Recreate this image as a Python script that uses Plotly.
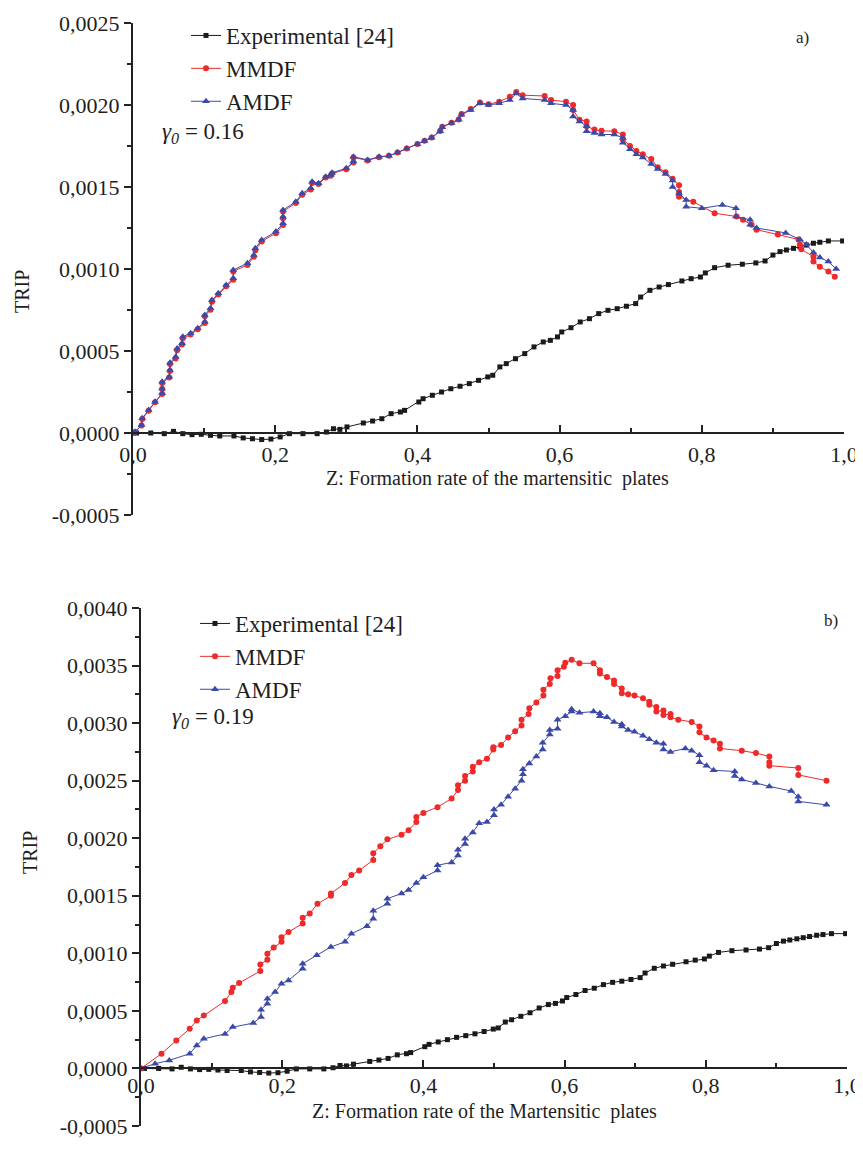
import plotly.graph_objects as go

# ---------------- data (TRIP values in units of 1e-3) ----------------
EXPERIMENTAL = [
    (0.0, 0.0), (0.005, 0.0), (0.025, 0.0), (0.044, -0.004), (0.057, 0.010), (0.070, -0.004),
    (0.083, -0.010), (0.096, -0.008), (0.109, -0.014), (0.122, -0.018), (0.142, -0.018),
    (0.155, -0.030), (0.168, -0.035), (0.181, -0.040), (0.194, -0.037), (0.207, -0.024),
    (0.220, -0.004), (0.239, -0.004), (0.259, -0.004), (0.272, 0.006), (0.282, 0.026),
    (0.291, 0.022), (0.301, 0.037), (0.324, 0.061), (0.337, 0.073), (0.350, 0.087),
    (0.363, 0.118), (0.376, 0.128), (0.382, 0.138), (0.402, 0.189), (0.408, 0.209),
    (0.421, 0.230), (0.434, 0.250), (0.447, 0.270), (0.460, 0.285), (0.473, 0.301),
    (0.486, 0.321), (0.499, 0.342), (0.506, 0.352), (0.516, 0.403), (0.525, 0.423),
    (0.538, 0.453), (0.551, 0.484), (0.564, 0.525), (0.577, 0.555), (0.587, 0.565),
    (0.597, 0.586), (0.603, 0.616), (0.616, 0.642), (0.629, 0.677), (0.642, 0.697),
    (0.655, 0.728), (0.668, 0.748), (0.681, 0.758), (0.694, 0.773), (0.707, 0.789),
    (0.714, 0.829), (0.727, 0.870), (0.740, 0.890), (0.753, 0.905), (0.772, 0.927),
    (0.785, 0.941), (0.798, 0.951), (0.805, 0.976), (0.818, 1.008), (0.837, 1.023),
    (0.857, 1.029), (0.876, 1.037), (0.889, 1.049), (0.900, 1.085), (0.910, 1.106),
    (0.919, 1.116), (0.929, 1.126), (0.938, 1.136), (0.947, 1.146), (0.957, 1.157),
    (0.966, 1.163), (0.978, 1.171), (0.998, 1.171),
]

MMDF_A = [
    (0.0, 0.0), (0.003, 0.006), (0.012, 0.045), (0.013, 0.085), (0.022, 0.136), (0.031, 0.188),
    (0.041, 0.238), (0.041, 0.268), (0.041, 0.305), (0.051, 0.338), (0.052, 0.378), (0.052, 0.420),
    (0.060, 0.455), (0.062, 0.505), (0.069, 0.540), (0.070, 0.578), (0.081, 0.600), (0.091, 0.632),
    (0.101, 0.670), (0.101, 0.712), (0.109, 0.752), (0.111, 0.800), (0.120, 0.845), (0.131, 0.895),
    (0.141, 0.935), (0.141, 0.985), (0.161, 1.025), (0.170, 1.075), (0.172, 1.115), (0.181, 1.168),
    (0.201, 1.218), (0.211, 1.268), (0.211, 1.310), (0.211, 1.350), (0.229, 1.402), (0.238, 1.452),
    (0.250, 1.485), (0.252, 1.525), (0.261, 1.518), (0.271, 1.558), (0.278, 1.568), (0.280, 1.582),
    (0.300, 1.608), (0.310, 1.650), (0.310, 1.680), (0.330, 1.662), (0.346, 1.682), (0.360, 1.690),
    (0.372, 1.710), (0.385, 1.735), (0.400, 1.762), (0.410, 1.782), (0.420, 1.802), (0.432, 1.842),
    (0.435, 1.868), (0.448, 1.892), (0.458, 1.912), (0.462, 1.945), (0.475, 1.975), (0.488, 2.015),
    (0.500, 2.005), (0.515, 2.020), (0.530, 2.050), (0.539, 2.080), (0.548, 2.060), (0.579, 2.055),
    (0.588, 2.030), (0.609, 2.020), (0.619, 2.000), (0.619, 1.970), (0.628, 1.910), (0.638, 1.900),
    (0.638, 1.870), (0.649, 1.850), (0.659, 1.843), (0.677, 1.840), (0.689, 1.820), (0.689, 1.790),
    (0.699, 1.750), (0.708, 1.720), (0.717, 1.700), (0.729, 1.670), (0.738, 1.620), (0.749, 1.590),
    (0.759, 1.550), (0.768, 1.510), (0.768, 1.470), (0.768, 1.440), (0.788, 1.410), (0.818, 1.340),
    (0.849, 1.320), (0.858, 1.300), (0.870, 1.270), (0.877, 1.240), (0.907, 1.210), (0.936, 1.180),
    (0.938, 1.150), (0.940, 1.120), (0.957, 1.075), (0.957, 1.045), (0.966, 1.014), (0.978, 0.984),
    (0.987, 0.953),
]

AMDF_A = [
    (0.0, 0.0), (0.003, 0.008), (0.012, 0.049), (0.013, 0.090), (0.022, 0.140), (0.031, 0.191),
    (0.041, 0.242), (0.041, 0.272), (0.041, 0.313), (0.051, 0.343), (0.052, 0.384), (0.052, 0.429),
    (0.060, 0.465), (0.062, 0.516), (0.069, 0.547), (0.070, 0.587), (0.081, 0.608), (0.091, 0.638),
    (0.101, 0.679), (0.101, 0.720), (0.109, 0.760), (0.111, 0.811), (0.120, 0.852), (0.131, 0.903),
    (0.141, 0.943), (0.141, 0.994), (0.161, 1.035), (0.170, 1.085), (0.172, 1.126), (0.181, 1.177),
    (0.201, 1.228), (0.211, 1.279), (0.211, 1.319), (0.211, 1.360), (0.229, 1.410), (0.238, 1.462),
    (0.250, 1.492), (0.252, 1.532), (0.261, 1.523), (0.271, 1.563), (0.278, 1.573), (0.280, 1.587),
    (0.300, 1.614), (0.310, 1.655), (0.310, 1.685), (0.330, 1.665), (0.346, 1.685), (0.360, 1.690),
    (0.372, 1.710), (0.385, 1.735), (0.400, 1.760), (0.410, 1.780), (0.420, 1.800), (0.432, 1.840),
    (0.435, 1.865), (0.448, 1.890), (0.458, 1.910), (0.462, 1.940), (0.475, 1.970), (0.488, 2.010),
    (0.500, 2.000), (0.515, 2.010), (0.530, 2.030), (0.539, 2.070), (0.548, 2.040), (0.579, 2.030),
    (0.588, 2.010), (0.609, 2.000), (0.619, 1.970), (0.619, 1.930), (0.628, 1.900), (0.638, 1.870),
    (0.638, 1.840), (0.649, 1.830), (0.659, 1.820), (0.677, 1.820), (0.689, 1.800), (0.689, 1.770),
    (0.699, 1.730), (0.708, 1.700), (0.717, 1.680), (0.729, 1.640), (0.738, 1.610), (0.749, 1.580),
    (0.759, 1.540), (0.759, 1.500), (0.768, 1.460), (0.778, 1.420), (0.778, 1.380), (0.800, 1.370),
    (0.829, 1.390), (0.848, 1.370), (0.848, 1.320), (0.868, 1.300), (0.868, 1.270), (0.877, 1.250),
    (0.918, 1.220), (0.938, 1.180), (0.947, 1.150), (0.957, 1.100), (0.966, 1.070), (0.978, 1.045),
    (0.989, 1.000),
]

MMDF_B = [
    (0.0, 0.0), (0.029, 0.128), (0.050, 0.243), (0.069, 0.345), (0.079, 0.417), (0.089, 0.461),
    (0.119, 0.585), (0.128, 0.664), (0.130, 0.701), (0.139, 0.742), (0.169, 0.846), (0.169, 0.904),
    (0.179, 0.945), (0.179, 0.997), (0.188, 1.050), (0.199, 1.100), (0.199, 1.140), (0.209, 1.185),
    (0.229, 1.260), (0.229, 1.310), (0.239, 1.345), (0.250, 1.430), (0.269, 1.500), (0.269, 1.520),
    (0.289, 1.610), (0.298, 1.680), (0.309, 1.720), (0.329, 1.810), (0.329, 1.870), (0.339, 1.930),
    (0.349, 1.990), (0.369, 2.030), (0.379, 2.070), (0.390, 2.140), (0.390, 2.185), (0.400, 2.220),
    (0.420, 2.270), (0.440, 2.345), (0.449, 2.420), (0.449, 2.460), (0.459, 2.500), (0.459, 2.540),
    (0.470, 2.580), (0.470, 2.620), (0.479, 2.660), (0.490, 2.690), (0.499, 2.770), (0.499, 2.790),
    (0.510, 2.810), (0.520, 2.875), (0.530, 2.930), (0.539, 2.980), (0.539, 3.030), (0.549, 3.080),
    (0.550, 3.130), (0.560, 3.180), (0.570, 3.240), (0.570, 3.290), (0.579, 3.340), (0.580, 3.390),
    (0.590, 3.410), (0.590, 3.460), (0.599, 3.490), (0.601, 3.525), (0.610, 3.550), (0.621, 3.520),
    (0.641, 3.520), (0.650, 3.460), (0.650, 3.430), (0.660, 3.400), (0.670, 3.370), (0.670, 3.340),
    (0.681, 3.300), (0.681, 3.260), (0.690, 3.250), (0.699, 3.240), (0.711, 3.215), (0.720, 3.185),
    (0.720, 3.160), (0.730, 3.140), (0.730, 3.100), (0.740, 3.110), (0.740, 3.070), (0.750, 3.080),
    (0.750, 3.050), (0.761, 3.030), (0.780, 3.010), (0.791, 2.970), (0.791, 2.920), (0.801, 2.875),
    (0.811, 2.850), (0.820, 2.820), (0.820, 2.780), (0.851, 2.760), (0.871, 2.740), (0.890, 2.710),
    (0.890, 2.660), (0.890, 2.630), (0.931, 2.610), (0.931, 2.550), (0.971, 2.500),
]

AMDF_B = [
    (0.0, 0.0), (0.020, 0.041), (0.040, 0.070), (0.069, 0.128), (0.079, 0.200), (0.089, 0.258),
    (0.119, 0.300), (0.130, 0.359), (0.159, 0.394), (0.170, 0.446), (0.170, 0.510), (0.179, 0.563),
    (0.179, 0.606), (0.190, 0.664), (0.199, 0.736), (0.209, 0.765), (0.229, 0.867), (0.229, 0.910),
    (0.249, 0.983), (0.269, 1.055), (0.289, 1.100), (0.298, 1.170), (0.320, 1.235), (0.329, 1.300),
    (0.329, 1.370), (0.349, 1.430), (0.349, 1.475), (0.369, 1.520), (0.379, 1.550), (0.390, 1.610),
    (0.400, 1.660), (0.420, 1.720), (0.420, 1.765), (0.440, 1.790), (0.449, 1.850), (0.449, 1.900),
    (0.459, 1.950), (0.459, 1.995), (0.470, 2.050), (0.479, 2.130), (0.490, 2.140), (0.500, 2.200),
    (0.500, 2.250), (0.510, 2.290), (0.520, 2.360), (0.530, 2.430), (0.539, 2.500), (0.541, 2.555),
    (0.541, 2.600), (0.550, 2.650), (0.560, 2.710), (0.569, 2.770), (0.569, 2.830), (0.579, 2.900),
    (0.579, 2.940), (0.590, 2.950), (0.590, 3.030), (0.601, 3.060), (0.610, 3.100), (0.610, 3.120),
    (0.621, 3.090), (0.641, 3.100), (0.650, 3.085), (0.650, 3.060), (0.660, 3.050), (0.670, 3.010),
    (0.681, 2.990), (0.681, 2.970), (0.690, 2.940), (0.699, 2.925), (0.711, 2.890), (0.720, 2.860),
    (0.730, 2.830), (0.740, 2.820), (0.740, 2.770), (0.750, 2.750), (0.771, 2.780), (0.780, 2.760),
    (0.791, 2.720), (0.791, 2.660), (0.801, 2.630), (0.811, 2.590), (0.841, 2.580), (0.841, 2.540),
    (0.851, 2.510), (0.871, 2.480), (0.890, 2.450), (0.921, 2.410), (0.931, 2.360), (0.931, 2.320),
    (0.971, 2.290),
]

SERIES_NAMES = ["Experimental [24]", "MMDF", "AMDF"]
GAMMA_LABELS = ["0.16", "0.19"]
X_TITLES = ["Z: Formation rate of the martensitic\u00a0 plates",
            "Z: Formation rate of the Martensitic\u00a0 plates"]
PANEL_LABELS = ["a)", "b)"]
X_TICKS = [0.0, 0.2, 0.4, 0.6, 0.8, 1.0]
X_TICK_TEXT = ["0,0", "0,2", "0,4", "0,6", "0,8", "1,0"]
Y_TICKS_A = [-0.0005, 0.0, 0.0005, 0.0010, 0.0015, 0.0020, 0.0025]
Y_TICK_TEXT_A = ["-0,0005", "0,0000", "0,0005", "0,0010", "0,0015", "0,0020", "0,0025"]
Y_TICKS_B = [-0.0005, 0.0, 0.0005, 0.0010, 0.0015, 0.0020, 0.0025, 0.0030, 0.0035, 0.0040]
Y_TICK_TEXT_B = ["-0,0005", "0,0000", "0,0005", "0,0010", "0,0015", "0,0020",
                 "0,0025", "0,0030", "0,0035", "0,0040"]

# ---------------- styling / layout ----------------
PAGE_W, PAGE_H = 863, 1151
OFF = 8  # default page margin around the plot div
W, H = PAGE_W - OFF, PAGE_H - OFF
FONT = "Liberation Serif, Times New Roman, serif"
TXT = "#1e1e1e"
BLACK, RED, BLUE = "#1a1a1a", "#ee2a2a", "#3b49a8"
AXC = "#222222"


def unzip(pairs):
    return [p[0] for p in pairs], [p[1] * 1e-3 for p in pairs]


def px_x(p):
    return (p - OFF) / W


def px_y(p):
    return 1 - (p - OFF) / H


panels = [
    dict(xd=[133, 844], yd=[515, 23], yr=[-0.0005, 0.0025], data=(EXPERIMENTAL, MMDF_A, AMDF_A),
         yt=(Y_TICKS_A, Y_TICK_TEXT_A), standoff=2),
    dict(xd=[141, 847], yd=[1126, 608], yr=[-0.0005, 0.0040], data=(EXPERIMENTAL, MMDF_B, AMDF_B),
         yt=(Y_TICKS_B, Y_TICK_TEXT_B), standoff=-3),
]

fig = go.Figure()
styles = [
    dict(color=BLACK, symbol="square", size=5),
    dict(color=RED, symbol="circle", size=6),
    dict(color=BLUE, symbol="triangle-up", size=7),
]

layout = dict(
    width=W, height=H, margin=dict(l=0, r=0, t=0, b=0, autoexpand=False),
    paper_bgcolor="white", plot_bgcolor="white",
    font=dict(family=FONT, size=21, color=TXT),
    showlegend=True,
)

annotations = []
for i, pn in enumerate(panels):
    sfx = "" if i == 0 else str(i + 1)
    xa, ya = "x" + sfx, "y" + sfx
    lg = "legend" if i == 0 else "legend2"
    for name, series, st in zip(SERIES_NAMES, pn["data"], styles):
        xs, ys = unzip(series)
        fig.add_trace(go.Scatter(
            x=xs, y=ys, mode="lines+markers", name=name,
            xaxis=xa, yaxis=ya, legend=lg,
            line=dict(color=st["color"], width=1),
            marker=dict(color=st["color"], symbol=st["symbol"], size=st["size"], line=dict(width=0)),
        ))
    yd0, yd1 = px_y(pn["yd"][0]), px_y(pn["yd"][1])
    yr = pn["yr"]
    zero_pos = yd0 + (yd1 - yd0) * (0 - yr[0]) / (yr[1] - yr[0])
    layout["xaxis" + sfx] = dict(
        domain=[px_x(pn["xd"][0]), px_x(pn["xd"][1])], range=[0, 1.0],
        anchor="free", position=zero_pos,
        showline=True, linecolor=AXC, linewidth=2,
        ticks="inside", ticklen=7, tickwidth=1.5, tickcolor=AXC,
        tickmode="array", tickvals=X_TICKS, ticktext=X_TICK_TEXT,
        minor=dict(ticks="inside", ticklen=4, dtick=0.1, tick0=0, tickwidth=1.5, tickcolor=AXC),
        showgrid=False, zeroline=False,
        tickfont=dict(family=FONT, size=22, color=TXT),
        ticklabelstandoff=pn["standoff"],
    )
    layout["yaxis" + sfx] = dict(
        domain=[yd0, yd1], range=yr, anchor=xa,
        showline=True, linecolor=AXC, linewidth=2,
        ticks="outside", ticklen=7, tickwidth=1.5, tickcolor=AXC,
        tickmode="array", tickvals=pn["yt"][0], ticktext=pn["yt"][1],
        minor=dict(ticks="outside", ticklen=4, dtick=0.00025, tick0=0, tickwidth=1.5, tickcolor=AXC),
        showgrid=False, zeroline=False,
        tickfont=dict(family=FONT, size=22, color=TXT),
    )

layout["legend"] = dict(
    x=px_x(186), y=px_y(14), xanchor="left", yanchor="top",
    bgcolor="rgba(0,0,0,0)", font=dict(family=FONT, size=23, color=TXT),
    itemwidth=30, tracegroupgap=0,
)
layout["legend2"] = dict(
    x=px_x(195), y=px_y(602), xanchor="left", yanchor="top",
    bgcolor="rgba(0,0,0,0)", font=dict(family=FONT, size=23, color=TXT),
    itemwidth=30, tracegroupgap=0,
)

# text annotations
ann_pos = [
    dict(trip=(22, 292), xt=(497, 478), gam=(160, 133), lab=(802, 37)),
    dict(trip=(30, 853), xt=(485, 1111), gam=(170, 718), lab=(831, 620)),
]
for i, ap in enumerate(ann_pos):
    annotations.append(dict(text="TRIP", x=px_x(ap["trip"][0]), y=px_y(ap["trip"][1]),
                            xref="paper", yref="paper", showarrow=False, textangle=-90,
                            xanchor="center", yanchor="middle",
                            font=dict(family=FONT, size=20, color=TXT)))
    annotations.append(dict(text=X_TITLES[i], x=px_x(ap["xt"][0]), y=px_y(ap["xt"][1]),
                            xref="paper", yref="paper", showarrow=False,
                            xanchor="center", yanchor="middle",
                            font=dict(family=FONT, size=20, color=TXT)))
    annotations.append(dict(text="<i>γ<sub>0</sub></i> = " + GAMMA_LABELS[i],
                            x=px_x(ap["gam"][0]), y=px_y(ap["gam"][1]),
                            xref="paper", yref="paper", showarrow=False,
                            xanchor="left", yanchor="middle",
                            font=dict(family=FONT, size=23, color=TXT)))
    annotations.append(dict(text=PANEL_LABELS[i], x=px_x(ap["lab"][0]), y=px_y(ap["lab"][1]),
                            xref="paper", yref="paper", showarrow=False,
                            xanchor="center", yanchor="middle",
                            font=dict(family=FONT, size=17, color=TXT)))

layout["annotations"] = annotations
fig.update_layout(**layout)
fig.write_html("out.html")
